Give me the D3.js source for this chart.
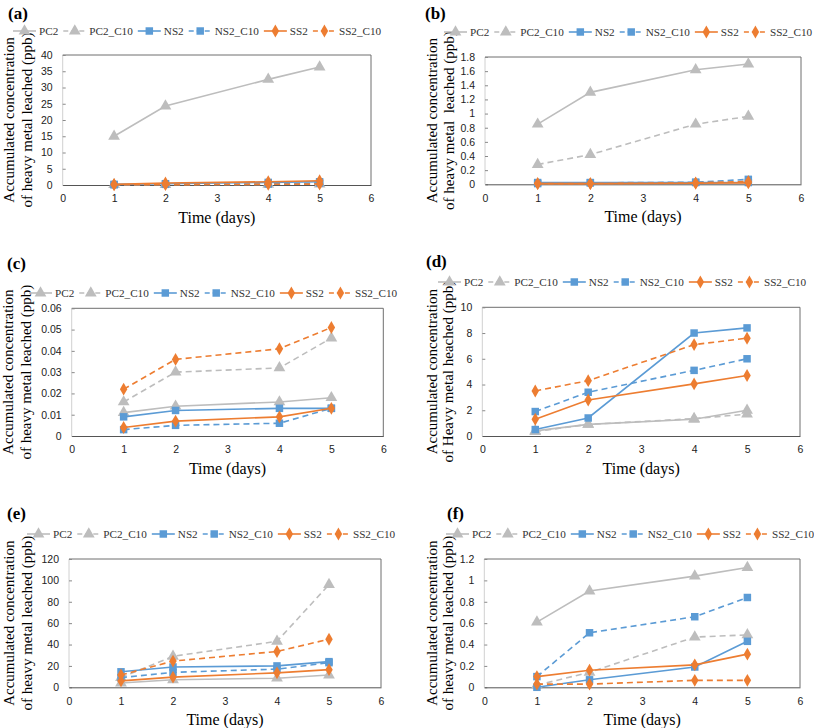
<!DOCTYPE html>
<html><head><meta charset="utf-8">
<script src="https://cdn.jsdelivr.net/npm/d3@7"></script>
<style>body{margin:0;background:#fff}svg{display:block}</style>
</head><body>
<svg id="chart" width="814" height="728"></svg>
<script>
// ---- data ----
const days = [1, 2, 4, 5];
const xTicks = [0, 1, 2, 3, 4, 5, 6];
const seriesNames = ["PC2", "PC2_C10", "NS2", "NS2_C10", "SS2", "SS2_C10"];
const seriesColors = ["#BDBDBD", "#BDBDBD", "#5B9BD5", "#5B9BD5", "#ED7D31", "#ED7D31"];
const seriesDashed = [false, true, false, true, false, true];
const seriesMarkers = ["triangle", "triangle", "square", "square", "diamond", "diamond"];
const panelLabels = ["(a)", "(b)", "(c)", "(d)", "(e)", "(f)"];
// values per panel, series order as seriesNames
const valuesA = [[15, 24.3, 32.5, 36.3], [0.1, 0.15, 0.2, 0.3], [0.2, 0.4, 0.8, 1.0], [0.05, 0.2, 0.3, 0.6], [0.2, 0.6, 1.0, 1.3], [0.05, 0.1, 0.2, 0.3]];
const valuesB = [[0.85, 1.3, 1.62, 1.7], [0.28, 0.42, 0.85, 0.96], [0.025, 0.025, 0.025, 0.025], [0.01, 0.02, 0.03, 0.07], [0.01, 0.01, 0.015, 0.02], [0.01, 0.01, 0.02, 0.04]];
const valuesC = [[0.011, 0.014, 0.016, 0.018], [0.016, 0.030, 0.032, 0.046], [0.009, 0.012, 0.013, 0.013], [0.003, 0.005, 0.006, 0.013], [0.004, 0.007, 0.009, 0.013], [0.022, 0.036, 0.041, 0.051]];
const valuesD = [[0.4, 0.9, 1.3, 2.0], [0.35, 0.9, 1.35, 1.7], [0.5, 1.4, 8.0, 8.4], [1.9, 3.4, 5.1, 6.0], [1.3, 2.8, 4.05, 4.7], [3.5, 4.3, 7.1, 7.6]];
const valuesE = [[4, 7, 8.5, 11.5], [9, 29, 43, 96], [14.5, 19, 20, 24], [9, 14, 17, 23], [6, 9.5, 13.5, 16.5], [11.5, 24.5, 33.5, 45]];
const valuesF = [[0.61, 0.9, 1.04, 1.12], [0.02, 0.14, 0.47, 0.49], [0.0, 0.07, 0.19, 0.43], [0.10, 0.51, 0.66, 0.84], [0.10, 0.16, 0.21, 0.31], [0.03, 0.03, 0.065, 0.065]];
const yTicksA = [0, 5, 10, 15, 20, 25, 30, 35, 40];
const yTicksB = [0, 0.2, 0.4, 0.6, 0.8, 1, 1.2, 1.4, 1.6, 1.8];
const yTicksC = [0, 0.01, 0.02, 0.03, 0.04, 0.05, 0.06];
const yTicksD = [0, 2, 4, 6, 8, 10];
const yTicksE = [0, 20, 40, 60, 80, 100, 120];
const yTicksF = [0, 0.2, 0.4, 0.6, 0.8, 1, 1.2];
const yTitleLine1 = "Accumulated concentration";
const yTitles2 = ["of heavy metal leached (ppb)", "of heavy metal  leached (ppb)", "of heavy metal leached (ppb)", "of Heavy metal heached (ppb)", "of heavy metal leached (ppb)", "of heavy metal leached (ppb)"];
const xTitle = "Time (days)";

// ---- layout ----
const layouts = [
  {l: 62.7, r: 371, t: 55, b: 185, lab: [8, 19], leg: [13, 31], yt: [9, 27]},
  {l: 485, r: 801, t: 57, b: 184.3, lab: [425, 19], leg: [444, 32], yt: [432, 449]},
  {l: 71.7, r: 383.3, t: 308.3, b: 436, lab: [7, 269], leg: [29, 293], yt: [8, 26]},
  {l: 482.3, r: 800, t: 307.3, b: 436, lab: [426, 267], leg: [438, 282], yt: [432, 448]},
  {l: 69, r: 381, t: 559, b: 687.3, lab: [7, 519], leg: [27, 534], yt: [9, 27]},
  {l: 484.3, r: 800, t: 559, b: 687.3, lab: [447, 519], leg: [446, 534], yt: [432, 448]}
];
const panelValues = [valuesA, valuesB, valuesC, valuesD, valuesE, valuesF];
const panelTicks = [yTicksA, yTicksB, yTicksC, yTicksD, yTicksE, yTicksF];

const svg = d3.select("#chart");
const serif = "'Liberation Serif','Times New Roman',serif";
const sans = "'Liberation Sans',Arial,sans-serif";
const symType = {triangle: d3.symbolTriangle, square: d3.symbolSquare, diamond: d3.symbolDiamond};
const symSize = {triangle: 60, square: 56, diamond: 48};
const fmt = v => String(+v.toFixed(4));

panelValues.forEach((vals, p) => {
  const L = layouts[p];
  const ticks = panelTicks[p];
  const g = svg.append("g");
  const x = d3.scaleLinear().domain([0, 6]).range([L.l, L.r]);
  const y = d3.scaleLinear().domain([0, ticks[ticks.length - 1]]).range([L.b, L.t]);

  // panel label
  g.append("text").attr("x", L.lab[0]).attr("y", L.lab[1]).text(panelLabels[p])
    .attr("font-family", serif).attr("font-weight", "bold").attr("font-size", 17);

  // plot frame
  g.append("line").attr("x1", L.l).attr("x2", L.r).attr("y1", L.t).attr("y2", L.t).attr("stroke", "#6e6e6e");
  g.append("line").attr("x1", L.r).attr("x2", L.r).attr("y1", L.t).attr("y2", L.b).attr("stroke", "#6e6e6e");
  g.append("line").attr("x1", L.l).attr("x2", L.l).attr("y1", L.t).attr("y2", L.b).attr("stroke", "#d0d0d0");

  // y axis
  const ya = g.append("g").attr("transform", `translate(${L.l},0)`)
    .call(d3.axisLeft(y).tickValues(ticks).tickFormat(fmt).tickSize(-3).tickPadding(10));
  ya.select(".domain").remove();
  ya.selectAll("line").attr("stroke", "#8a8a8a");
  ya.selectAll("text").attr("font-family", sans).attr("font-size", 10.5).attr("fill", "#222");

  // x axis
  const xa = g.append("g").attr("transform", `translate(0,${L.b})`)
    .call(d3.axisBottom(x).tickValues(xTicks).tickFormat(d3.format("d")).tickSize(0).tickPadding(10));
  xa.select(".domain").attr("stroke", "#555");
  xa.selectAll("text").attr("font-family", sans).attr("font-size", 10.5).attr("fill", "#222");

  // axis titles
  const cy = (L.t + L.b) / 2;
  [yTitleLine1, yTitles2[p]].forEach((t, i) => {
    g.append("text").attr("transform", `translate(${L.yt[i]},${cy}) rotate(-90)`)
      .attr("text-anchor", "middle").attr("dominant-baseline", "central")
      .attr("font-family", serif).attr("font-size", 15).style("white-space", "pre").text(t);
  });
  g.append("text").attr("x", (L.l + L.r) / 2).attr("y", L.b + 38).attr("text-anchor", "middle")
    .attr("font-family", serif).attr("font-size", 16).text(xTitle);

  // series
  const line = d3.line().x((d, i) => x(days[i])).y(d => y(d));
  vals.forEach((s, k) => {
    g.append("path").datum(s).attr("d", line).attr("fill", "none")
      .attr("stroke", seriesColors[k]).attr("stroke-width", 1.6)
      .attr("stroke-dasharray", seriesDashed[k] ? "6,4" : null);
    g.selectAll(null).data(s).enter().append("path")
      .attr("transform", (d, i) => `translate(${x(days[i])},${y(d)})`)
      .attr("d", d3.symbol().type(symType[seriesMarkers[k]]).size(symSize[seriesMarkers[k]]))
      .attr("fill", seriesColors[k]);
  });

  // legend
  let lx = L.leg[0];
  const ly = L.leg[1];
  seriesNames.forEach((n, k) => {
    g.append("line").attr("x1", lx).attr("x2", lx + 23).attr("y1", ly).attr("y2", ly)
      .attr("stroke", seriesColors[k]).attr("stroke-width", 1.6)
      .attr("stroke-dasharray", seriesDashed[k] ? "5,3" : null);
    g.append("path").attr("transform", `translate(${lx + 11.5},${ly})`)
      .attr("d", d3.symbol().type(symType[seriesMarkers[k]]).size(symSize[seriesMarkers[k]]))
      .attr("fill", seriesColors[k]);
    const t = g.append("text").attr("x", lx + 26).attr("y", ly).attr("dominant-baseline", "central")
      .attr("font-family", serif).attr("font-size", 11.2).attr("fill", "#333").text(n);
    lx += 26 + t.node().getComputedTextLength() + 5;
  });
});
</script>
</body></html>
